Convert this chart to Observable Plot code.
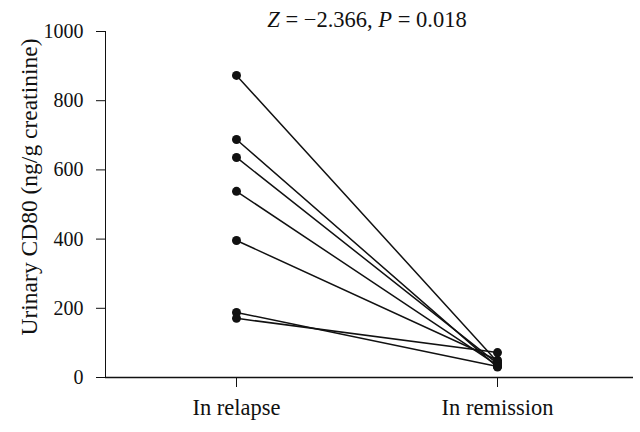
<!DOCTYPE html>
<html>
<head>
<meta charset="utf-8">
<script src="https://cdn.jsdelivr.net/npm/d3@7"></script>
<script src="https://cdn.jsdelivr.net/npm/@observablehq/plot@0.6"></script>
<style>
  html, body { margin: 0; padding: 0; background: #fff; }
</style>
</head>
<body>
<div id="chart"></div>
<script>
const conditions = ["In relapse", "In remission"];
const relapseValues = [873, 688, 636, 538, 396, 188, 171];
const remissionValues = [45, 30, 40, 35, 50, 32, 72];
const yTicks = [0, 200, 400, 600, 800, 1000];
const yLabel = "Urinary CD80 (ng/g creatinine)";

const rows = [];
relapseValues.forEach((v, i) => {
  rows.push({patient: i, condition: conditions[0], value: v});
  rows.push({patient: i, condition: conditions[1], value: remissionValues[i]});
});

const font = "'Liberation Serif', 'DejaVu Serif', serif";

const chart = Plot.plot({
  width: 640,
  height: 432,
  marginLeft: 105,
  marginRight: 7,
  marginTop: 31,
  marginBottom: 55,
  style: {fontFamily: font, fontSize: "20px", color: "#111", background: "#fff"},
  x: {type: "point", domain: conditions, padding: 0.5, insetRight: 6, label: null, tickSize: 10, tickPadding: 12},
  y: {domain: [0, 1000], ticks: yTicks, label: null, tickSize: 9, tickPadding: 13, line: true, tickFormat: d => String(d)},
  marks: [
    Plot.ruleY([0], {stroke: "#111", strokeWidth: 1.3}),
    Plot.line(rows, {x: "condition", y: "value", z: "patient", stroke: "#111", strokeWidth: 1.5}),
    Plot.dot(rows, {x: "condition", y: "value", r: 4.5, fill: "#111", stroke: null})
  ]
});

document.getElementById("chart").appendChild(chart);

const svg = d3.select(chart);
svg.selectAll("g[aria-label='x-axis tick label'] text, g[aria-label='x-axis tick label']").attr("font-size", 22.5);

// Y axis label
svg.append("text")
  .attr("transform", "translate(29,187) rotate(-90)")
  .attr("text-anchor", "middle")
  .attr("dy", "0.35em")
  .attr("font-family", font)
  .attr("font-size", 23.5)
  .attr("fill", "#111")
  .text(yLabel);

// Title with italic Z and P
const t = svg.append("text")
  .attr("x", 367)
  .attr("y", 27)
  .attr("text-anchor", "middle")
  .attr("font-family", font)
  .attr("font-size", 22.5)
  .attr("fill", "#111");
t.append("tspan").attr("font-style", "italic").text("Z");
t.append("tspan").text(" = −2.366, ");
t.append("tspan").attr("font-style", "italic").text("P");
t.append("tspan").text(" = 0.018");
</script>
</body>
</html>
